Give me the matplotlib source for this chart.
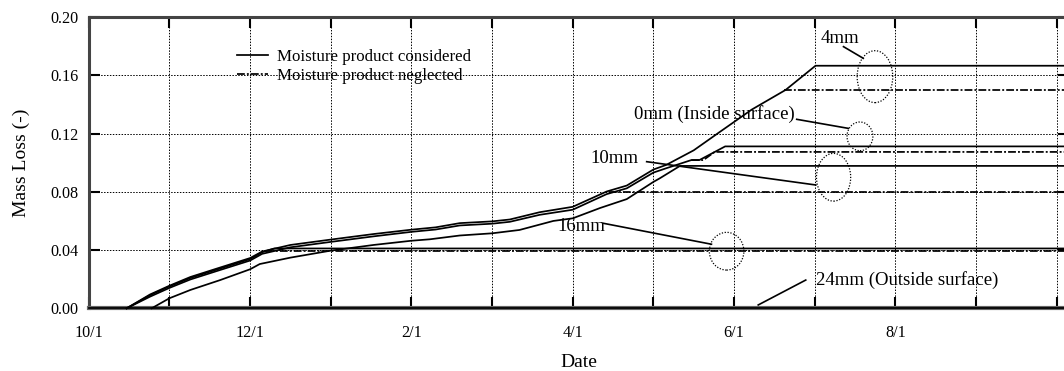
import matplotlib
matplotlib.use("Agg")
import matplotlib.pyplot as plt
from matplotlib.patches import Ellipse

# months counted from 10/1 (0 = 10/1, 2 = 12/1, ...)
month_ticks = list(range(13))
month_labels = ["10/1", "", "12/1", "", "2/1", "", "4/1", "", "6/1", "", "8/1", "", ""]

# moisture product considered
d4_m = [0.47, 0.76, 1.0, 1.26, 1.6, 2.0, 2.15, 2.5, 3.0, 3.53, 4.0, 4.3, 4.6, 5.0, 5.22,
        5.59, 6.0, 6.42, 6.67, 7.0, 7.16, 7.5, 7.82, 8.22, 8.64, 9.01, 12.15]
d4_v = [0.0, 0.0095, 0.0155, 0.0215, 0.0275, 0.0345, 0.0390, 0.0435, 0.0472, 0.0510, 0.0540,
        0.0556, 0.0585, 0.0597, 0.0610, 0.0660, 0.0697, 0.0802, 0.0843, 0.0953, 0.0985,
        0.1085, 0.1210, 0.1365, 0.1500, 0.1666, 0.1666]

d0_m = [0.47, 0.76, 1.0, 1.26, 1.6, 2.0, 2.15, 2.5, 3.0, 3.53, 4.0, 4.3, 4.6, 5.0, 5.22,
        5.59, 6.0, 6.42, 6.67, 7.0, 7.16, 7.47, 7.57, 7.89, 12.15]
d0_v = [0.0, 0.0080, 0.0140, 0.0198, 0.0258, 0.0328, 0.0374, 0.0419, 0.0456, 0.0494, 0.0525,
        0.0541, 0.0569, 0.0581, 0.0594, 0.0642, 0.0677, 0.0784, 0.0824, 0.0932, 0.0962,
        0.1018, 0.1018, 0.1112, 0.1112]

d10_m = [0.78, 1.0, 1.26, 1.63, 2.0, 2.12, 2.5, 3.0, 3.53, 4.0, 4.23, 4.6, 5.0, 5.34, 5.76,
         6.0, 6.34, 6.67, 7.0, 7.08, 7.33, 12.15]
d10_v = [0.0, 0.0069, 0.0126, 0.0194, 0.0268, 0.0304, 0.0348, 0.0396, 0.0435, 0.0464, 0.0474,
         0.0500, 0.0515, 0.0538, 0.0600, 0.0618, 0.0689, 0.0750, 0.0868, 0.0893, 0.0978, 0.0978]

d16_m = [0.47, 0.76, 1.0, 1.26, 1.6, 2.0, 2.15, 2.3, 12.15]
d16_v = [0.0, 0.0090, 0.0150, 0.0208, 0.0268, 0.0338, 0.0385, 0.0411, 0.0411]

d24_m = [0.0, 12.15]
d24_v = [0.0, 0.0]

# moisture product neglected (only the part that leaves the solid curves)
n4_m = [8.62, 12.15]
n4_v = [0.1500, 0.1500]
n0_m = [7.47, 7.62, 7.76, 12.15]
n0_v = [0.1018, 0.1018, 0.1074, 0.1074]
n10_m = [6.45, 12.15]
n10_v = [0.0801, 0.0801]
n16_m = [2.2, 12.15]
n16_v = [0.0395, 0.0395]
n24_m = [0.0, 12.15]
n24_v = [0.0, 0.0]

considered = [(d0_m, d0_v), (d4_m, d4_v), (d10_m, d10_v), (d16_m, d16_v), (d24_m, d24_v)]
neglected = [(n0_m, n0_v), (n4_m, n4_v), (n10_m, n10_v), (n16_m, n16_v), (n24_m, n24_v)]

plt.rcParams['font.family'] = ['Liberation Serif', 'DejaVu Serif']

fig = plt.figure(figsize=(10.64, 3.71), dpi=100)
ax = fig.add_axes([0.0834, 0.169, 0.9211, 0.7849])

dashdot = (0, (4.5, 1.2, 1.1, 1.2))
for m, v in neglected:
    h_neg, = ax.plot(m, v, color='black', lw=1.25, ls=dashdot, zorder=2, clip_on=False)
for m, v in considered:
    h_con, = ax.plot(m, v, color='black', lw=1.25, zorder=3, clip_on=False)

# annotations: text, pointer line, dotted ellipse
notes = [
    ("4mm", (9.076, 0.185), [(9.357, 0.1797), (9.602, 0.1717)], (9.747, 0.1591), 0.441, 0.0357),
    ("0mm (Inside surface)", (6.757, 0.1334), [(8.777, 0.1298), (9.415, 0.1236)], (9.561, 0.1181), 0.321, 0.0197),
    ("10mm", (6.214, 0.1032), [(6.917, 0.1007), (9.013, 0.0847)], (9.234, 0.090), 0.424, 0.0328),
    ("16mm", (5.813, 0.056), [(6.379, 0.0584), (7.72, 0.044)], (7.908, 0.0392), 0.428, 0.0259),
    ("24mm (Outside surface)", (9.013, 0.0194), [(8.889, 0.0194), (8.30, 0.0023)], None, 0, 0),
]
for label, tpos, seg, ecen, ew, eh in notes:
    ax.text(tpos[0], tpos[1], label, fontsize=13.5, ha='left', va='center', zorder=5)
    ax.plot([seg[0][0], seg[1][0]], [seg[0][1], seg[1][1]], color='black', lw=1.2, zorder=4)
    if ecen is not None:
        ax.add_patch(Ellipse(ecen, ew, eh, fill=False, ec='black', lw=0.9,
                             ls=(0, (1, 1.3)), zorder=4))

ax.set_xlim(0, 12.15)
ax.set_ylim(0, 0.20)
ax.set_xticks(month_ticks)
ax.set_xticklabels(month_labels)
ax.set_yticks([0.0, 0.04, 0.08, 0.12, 0.16, 0.20])
ax.set_yticklabels(["0.00", "0.04", "0.08", "0.12", "0.16", "0.20"])
ax.tick_params(direction='in', length=8, width=1.5, top=True, right=True, labelsize=11.6)
ax.tick_params(axis='x', pad=12)
ax.tick_params(axis='y', pad=7.5)

ax.grid(True, color='black', lw=0.7, ls=(0, (1.5, 1.5)))
ax.set_axisbelow(True)

for s in ax.spines.values():
    s.set_linewidth(2.2)
    s.set_color('#444444')
ax.spines['bottom'].set_linewidth(3)
ax.spines['bottom'].set_color('#666666')

ax.set_xlabel('Date', fontsize=14)
ax.xaxis.set_label_coords(0.5, -0.157)
ax.set_ylabel('Mass Loss (-)', fontsize=14)
ax.yaxis.set_label_coords(-0.06, 0.5)

ax.legend([h_con, h_neg], ['Moisture product considered', 'Moisture product neglected'],
          loc='upper left', bbox_to_anchor=(237 / 1064, 1 - 48.7 / 371),
          bbox_transform=fig.transFigure, frameon=False, fontsize=12.2,
          handlelength=1.85, handletextpad=0.5, labelspacing=0.22,
          borderpad=0, borderaxespad=0)

fig.savefig('out.png', dpi=100)
